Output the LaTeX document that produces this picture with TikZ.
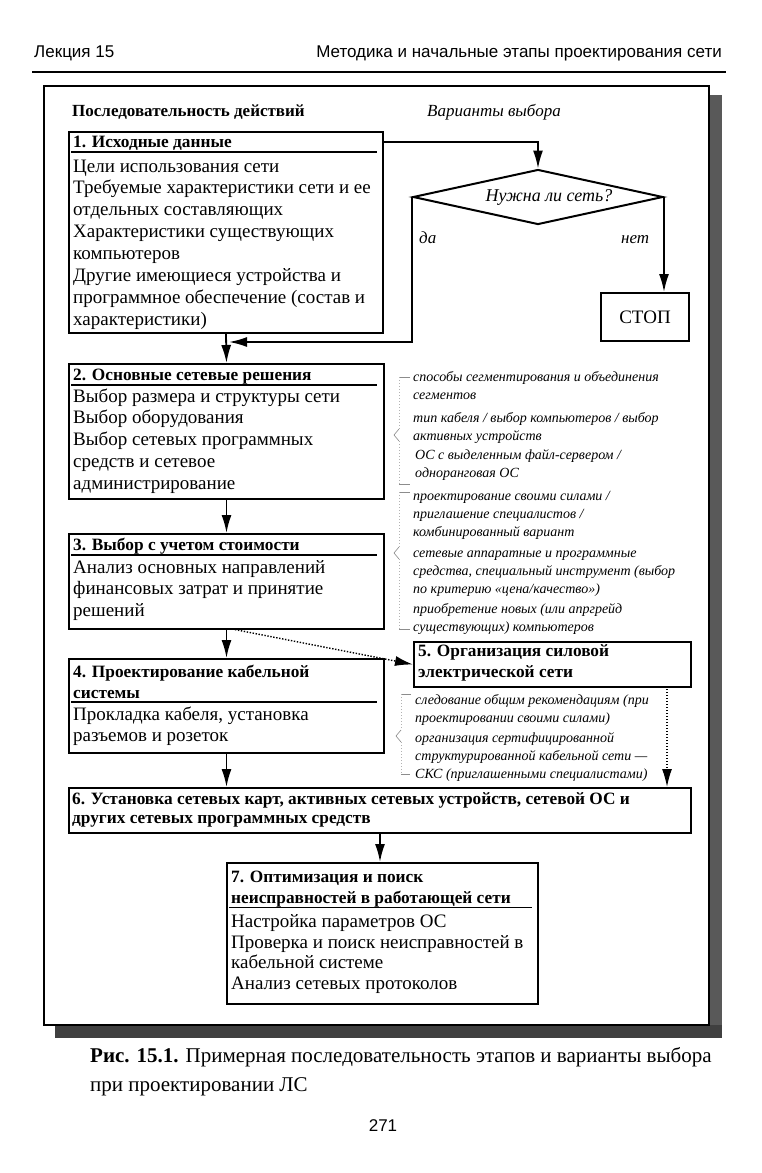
\documentclass[tikz,border=0pt]{standalone}
\usepackage{fontspec}
\setmainfont{Liberation Serif}
\newfontfamily\hdrfont{Liberation Sans}
\usetikzlibrary{shapes.geometric,arrows.meta}
\begin{document}
\begin{tikzpicture}[x=1pt,y=-1pt,
 box/.style={draw, line width=2pt, inner sep=0, anchor=north west},
 bodyt/.style={font=\fontsize{19}{21.9}\selectfont, align=left, inner sep=0, anchor=base west},
 ttl/.style={font=\fontsize{17.3}{21.9}\selectfont\bfseries, align=left, inner sep=0, anchor=base west},
 note/.style={font=\fontsize{14}{18}\selectfont\itshape, align=left, inner sep=0, anchor=base west},
 hdr/.style={font=\hdrfont\fontsize{17}{20}\selectfont, inner sep=0},
 arr/.style={line width=1.8pt, -{Latex[length=18pt,width=10pt]}},
 darr/.style={line width=1.4pt, dash pattern=on 1.4pt off 1.6pt, -{Latex[length=18pt,width=10pt]}},
 uline/.style={line width=1.2pt},
 brc/.style={black!45, line width=0.6pt},
 brv/.style={black!30, line width=0.5pt, dash pattern=on 1pt off 2pt}]
\useasboundingbox (0,0) rectangle (761,1173);
\fill[white] (0,0) rectangle (761,1173);
% header
\node[hdr, anchor=base west] (hl) at (34,57) {Лекция 15};
\node[hdr, anchor=base east] (hr) at (722,57) {Методика и начальные этапы проектирования сети};
\draw[line width=2pt] (32,72) -- (726,72);
% frame and shadow
\fill[black!65] (709,95) rectangle (722,1038);
\fill[black!75] (55,1025) rectangle (722,1038);
\draw[line width=1.2pt] (44,86) rectangle (709,1025);
% column headings
\node[font=\fontsize{17}{20}\selectfont\bfseries, anchor=base west, inner sep=0] (hseq) at (72,116) {Последовательность действий};
\node[font=\fontsize{17}{20}\selectfont\itshape, anchor=base west, inner sep=0] (hvar) at (427,116) {Варианты выбора};
% box 1
\node[box, minimum width=314, minimum height=201] (b1) at (68,131) {};
\node[ttl] (b1t) at (73,147) {1. Исходные данные};
\draw[uline] (71,152) -- (377,152);
\node[bodyt] (b1b) at (73,325.3) {Цели использования сети\\Требуемые характеристики сети и ее\\отдельных составляющих\\Характеристики существующих\\компьютеров\\Другие имеющиеся устройства и\\программное обеспечение (состав и\\характеристики)};
% diamond and stop
\node[diamond, draw, line width=2pt, minimum width=250, minimum height=55, inner sep=0] (dm) at (538,197) {};
\node[font=\fontsize{18}{20}\selectfont\itshape, inner sep=0] (dmt) at (549,197) {Нужна ли сеть?};
\node[font=\fontsize{17}{20}\selectfont\itshape, anchor=base west, inner sep=0] (da) at (419,243) {да};
\node[font=\fontsize{17}{20}\selectfont\itshape, anchor=base west, inner sep=0] (net) at (621,243) {нет};
\node[box, minimum width=88, minimum height=48] (stop) at (600,292) {};
\node[font=\fontsize{19}{22}\selectfont, inner sep=0] (stopt) at (stop.center) {СТОП};
\coordinate (c1) at (382,142);
\coordinate (c2) at (538,142);
\coordinate (j1) at (229,342);
\draw[arr] (c1) -- (c2) -- (dm.north);
\draw[arr] (dm.west) |- (j1);
\draw[arr] (dm.east) -- (dm.east |- stop.north);
% box 2
\node[box, minimum width=315, minimum height=135] (b2) at (68,363) {};
\node[ttl] (b2t) at (73,380) {2. Основные сетевые решения};
\draw[uline] (71,385) -- (377,385);
\node[bodyt] (b2b) at (73,489.6) {Выбор размера и структуры сети\\Выбор оборудования\\Выбор сетевых программных\\средств и сетевое\\администрирование};
\draw[arr] (b1.south) -- (b2.north);
% box 3
\node[box, minimum width=315, minimum height=95] (b3) at (68,533) {};
\node[ttl] (b3t) at (73,550) {3. Выбор с учетом стоимости};
\draw[uline] (71,555) -- (377,555);
\node[bodyt] (b3b) at (73,616.8) {Анализ основных направлений\\финансовых затрат и принятие\\решений};
\draw[arr] (b2.south) -- (b3.north);
% box 4
\node[box, minimum width=315, minimum height=94] (b4) at (68,658) {};
\node[ttl] (b4t) at (73,698.9) {4. Проектирование кабельной\\системы};
\draw[uline] (71,702) -- (377,702);
\node[bodyt] (b4b) at (73,741.9) {Прокладка кабеля, установка\\разъемов и розеток};
\draw[arr] (b3.south) -- (b4.north);
% box 5
\node[box, minimum width=277, minimum height=45] (b5) at (413,641) {};
\node[ttl] (b5t) at (418,677.9) {5. Организация силовой\\электрической сети};
\coordinate (d3) at (232,629);
\draw[darr] (d3) -- (b5.west);
% box 6
\node[box, minimum width=622, minimum height=45] (b6) at (68,787) {};
\node[ttl, font=\fontsize{17.3}{19.5}\selectfont\bfseries] (b6t) at (72,823.5) {6. Установка сетевых карт, активных сетевых устройств, сетевой ОС и\\других сетевых программных средств};
\draw[arr] (b4.south) -- (b6.north -| b4.south);
\coordinate (d5) at (667,686);
\draw[darr] (d5) -- (d5 |- b6.north);
% box 7
\node[box, minimum width=311, minimum height=141] (b7) at (226,862) {};
\node[ttl, font=\fontsize{17.3}{21}\selectfont\bfseries] (b7t) at (231,903) {7. Оптимизация и поиск\\неисправностей в работающей сети};
\draw[uline] (229,907.5) -- (532,907.5);
\node[bodyt, font=\fontsize{19}{20.4}\selectfont] (b7b) at (231,989) {Настройка параметров ОС\\Проверка и поиск неисправностей в\\кабельной системе\\Анализ сетевых протоколов};
\draw[arr] (b6.south) -- (b6.south |- b7.north);
% annotations
\node[note] (n1) at (413,399) {способы сегментирования и объединения\\сегментов};
\node[note] (n2) at (413,440) {тип кабеля / выбор компьютеров / выбор\\активных устройств};
\node[note] (n3) at (415,477) {ОС с выделенным файл-сервером /\\одноранговая ОС};
\node[note] (n4) at (413,536) {проектирование своими силами /\\приглашение специалистов /\\комбинированный вариант};
\node[note] (n5) at (413,593) {сетевые аппаратные и программные\\средства, специальный инструмент (выбор\\по критерию «цена/качество»)};
\node[note] (n6) at (413,631) {приобретение новых (или апргрейд\\существующих) компьютеров};
\node[note] (n7) at (415,722) {следование общим рекомендациям (при\\проектировании своими силами)};
\node[note] (n8) at (415,778) {организация сертифицированной\\структурированной кабельной сети —\\СКС (приглашенными специалистами)};
% faint braces
\draw[brc] (410,377) -- (399,377);
\draw[brv] (399,377) -- (399,429);
\draw[brc] (399,429) -- (394,435) -- (399,441);
\draw[brv] (399,441) -- (399,484);
\draw[brc] (399,484) -- (410,484);
\draw[brc] (410,492) -- (399,492);
\draw[brv] (399,492) -- (399,547);
\draw[brc] (399,547) -- (394,553) -- (399,559);
\draw[brv] (399,559) -- (399,629);
\draw[brc] (399,629) -- (410,629);
\draw[brc] (411,694) -- (401,694);
\draw[brv] (401,694) -- (401,730);
\draw[brc] (401,730) -- (396,736) -- (401,742);
\draw[brv] (401,742) -- (401,774);
\draw[brc] (401,774) -- (410,774);
% caption
\node[font=\fontsize{21}{29}\selectfont, align=left, anchor=base west, inner sep=0] (cap) at (90,1091) {\textbf{Рис. 15.1.} Примерная последовательность этапов и варианты выбора\\при проектировании ЛС};
\node[hdr, anchor=base] (pg) at (383,1131) {271};
\end{tikzpicture}
\end{document}
